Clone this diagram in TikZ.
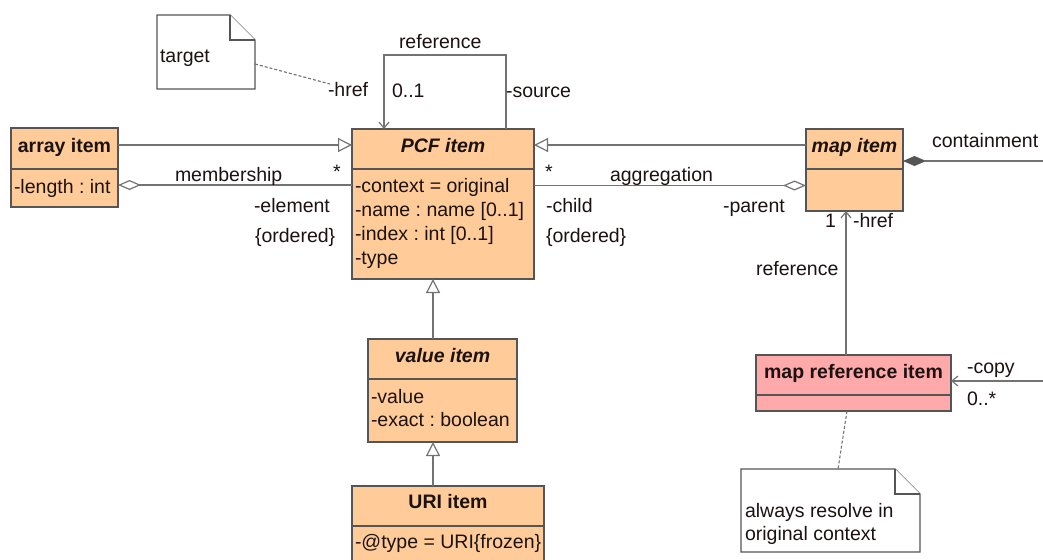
\documentclass[tikz,border=0pt]{standalone}
\usepackage{fontspec}
\setmainfont{Liberation Sans}
\usetikzlibrary{arrows.meta,calc}
\definecolor{peach}{HTML}{FFCC99}
\definecolor{rose}{HTML}{FFAAAA}
\definecolor{edge}{HTML}{555555}
\definecolor{wire}{HTML}{737373}
\definecolor{ink}{HTML}{1C1212}
\frenchspacing

\begin{document}
\begin{tikzpicture}[x=1pt,y=-1pt,
  font=\fontsize{19.5}{24}\selectfont,
  lbl/.style={inner sep=0pt, outer sep=0pt, anchor=base west, text=ink},
  title/.style={inner sep=0pt, outer sep=0pt, anchor=base, text=ink, font=\fontsize{19.5}{24}\selectfont\bfseries},
  part/.style={draw=edge, line width=1.3pt, anchor=north west, inner sep=0pt, outer sep=0pt},
  notebox/.style={inner sep=0pt, outer sep=0pt, anchor=north west},
  notepath/.style={draw=edge, line width=1.2pt, fill=white},
  gen/.style={draw=wire, line width=1.2pt, -{Triangle[length=14pt,width=14pt,fill=white]}},
  aggr/.style={draw=wire, line width=1.2pt, -{Diamond[length=23pt,width=10pt,fill=white]}},
  comp/.style={draw=wire, line width=1.2pt, -{Diamond[length=23pt,width=10pt,color=edge,fill=edge]}},
  nav/.style={draw=wire, line width=1.2pt, -{Straight Barb[length=6pt,width=10pt]}},
  anchorline/.style={draw=wire, line width=1.1pt, dash pattern=on 3pt off 2pt},
]
\clip (0,0) rectangle (1043,559);
\fill[white] (0,0) rectangle (1043,559);

% ---- classes: header and attribute compartments
\node[part, fill=peach, minimum width=107pt, minimum height=41pt] (arrH) at (11,128) {};
\node[part, fill=peach, minimum width=107pt, minimum height=38pt] (arrB) at (arrH.south west) {};

\node[part, fill=peach, minimum width=182pt, minimum height=40pt] (pcfH) at (352,129) {};
\node[part, fill=peach, minimum width=182pt, minimum height=110pt] (pcfB) at (pcfH.south west) {};

\node[part, fill=peach, minimum width=97pt, minimum height=40pt] (mapH) at (806,129) {};
\node[part, fill=peach, minimum width=97pt, minimum height=42pt] (mapB) at (mapH.south west) {};

\node[part, fill=peach, minimum width=149pt, minimum height=40pt] (valH) at (368,339) {};
\node[part, fill=peach, minimum width=149pt, minimum height=63pt] (valB) at (valH.south west) {};

\node[part, fill=peach, minimum width=192pt, minimum height=40pt] (uriH) at (352,486) {};
\node[part, fill=peach, minimum width=192pt, minimum height=42pt] (uriB) at (uriH.south west) {};

\node[part, fill=rose, minimum width=195pt, minimum height=40pt] (mrH) at (756,355) {};
\node[part, fill=rose, minimum width=195pt, minimum height=16pt] (mrB) at (mrH.south west) {};

% ---- class names and attributes
\node[title] (arrT) at (arrH.center |- 0,152) {array item};
\node[lbl] (arrA1) at (14,193) {-length : int};

\node[title, font=\fontsize{19.5}{24}\selectfont\bfseries\itshape] (pcfT) at (pcfH.center |- 0,152) {PCF item};
\node[lbl] (pcfA1) at (355,192) {-context = original};
\node[lbl] (pcfA2) at (355,216) {-name : name [0..1]};
\node[lbl] (pcfA3) at (355,240) {-index : int [0..1]};
\node[lbl] (pcfA4) at (355,264) {-type};

\node[title, font=\fontsize{19.5}{24}\selectfont\bfseries\itshape] (mapT) at (mapH.center |- 0,152) {map item};

\node[title, font=\fontsize{19.5}{24}\selectfont\bfseries\itshape] (valT) at (valH.center |- 0,362) {value item};
\node[lbl] (valA1) at (371,403) {-value};
\node[lbl] (valA2) at (371,426) {-exact : boolean};

\node[title] (uriT) at (uriH.center |- 0,508) {URI item};
\node[lbl] (uriA1) at (355,548) {-@type = URI\{frozen\}};

\node[title] (mrT) at (mrH.center |- 0,378) {map reference item};

% ---- notes with folded corner
\node[notebox, minimum width=98pt, minimum height=74pt] (tgtN) at (157,15) {};
\draw[notepath] (tgtN.north west) -- ($(tgtN.north east)+(-25,0)$) -- ($(tgtN.north east)+(0,25)$)
  -- (tgtN.south east) -- (tgtN.south west) -- cycle;
\draw[notepath] ($(tgtN.north east)+(-25,0)$) -- ($(tgtN.north east)+(-25,25)$) -- ($(tgtN.north east)+(0,25)$);
\node[lbl] (tgtT) at (160,63) {target};

\node[notebox, minimum width=179pt, minimum height=83pt] (ctxN) at (741,469) {};
\draw[notepath] (ctxN.north west) -- ($(ctxN.north east)+(-25,0)$) -- ($(ctxN.north east)+(0,25)$)
  -- (ctxN.south east) -- (ctxN.south west) -- cycle;
\draw[notepath] ($(ctxN.north east)+(-25,0)$) -- ($(ctxN.north east)+(-25,25)$) -- ($(ctxN.north east)+(0,25)$);
\node[lbl] (ctxT1) at (745,517) {always resolve in};
\node[lbl] (ctxT2) at (745,540) {original context};

% ---- generalizations
\coordinate (g1) at ($(arrH.east)+(0,-3.5)$);
\draw[gen] (g1) -- (g1 -| pcfH.west);
\coordinate (g2) at ($(mapH.west)+(0,-4)$);
\draw[gen] (g2) -- (g2 -| pcfH.east);
\coordinate (g3) at ($(valH.north)+(-9.5,0)$);
\draw[gen] (g3) -- (g3 |- pcfB.south);
\coordinate (g4) at ($(uriH.north)+(-15,0)$);
\draw[gen] (g4) -- (g4 |- valB.south);

% ---- aggregations and composition
\coordinate (m1) at ($(arrB.east)+(0,-3)$);
\draw[aggr] (m1 -| pcfB.west) -- (m1);
\coordinate (a1) at ($(mapB.west)+(0,-4.5)$);
\draw[aggr] (a1 -| pcfB.east) -- (a1);
\coordinate (c1) at ($(mapH.east)+(0,12)$);
\coordinate (cEnd) at (1043,161);
\draw[comp] (cEnd) -- (c1);

% ---- directed associations
\coordinate (s1) at ($(pcfH.north)+(63,0)$);
\coordinate (s2) at ($(pcfH.north)+(-59,0)$);
\draw[nav] (s1) -- ++(0,-74) -| (s2);
\coordinate (r1) at ($(mrH.north)+(-7.5,0)$);
\draw[nav] (r1) -- (r1 |- mapB.south);
\coordinate (cp) at ($(mrH.east)+(0,6)$);
\coordinate (cpEnd) at (1043,381);
\draw[nav] (cpEnd) -- (cp);

% ---- note anchors
\coordinate (hrefEnd) at (330,84);
\draw[anchorline] ($(tgtN.east)+(0,12)$) -- (hrefEnd);
\draw[anchorline] ($(mrB.south)+(-6.5,0)$) -- ($(ctxN.north)+(7.5,0)$);

% ---- association labels
\node[lbl] (lHref1) at (328,97) {-href};
\node[lbl] (lRef1) at (399,49) {reference};
\node[lbl] (lOne1) at (392,98) {0..1};
\node[lbl] (lSrc) at (506,98) {-source};
\node[lbl] (lMem) at (175,181) {membership};
\node[lbl] (lStar1) at (333,178) {*};
\node[lbl] (lElem) at (254,212) {-element};
\node[lbl] (lOrd1) at (255,242) {\{ordered\}};
\node[lbl] (lStar2) at (545,178) {*};
\node[lbl] (lAgg) at (610,181) {aggregation};
\node[lbl] (lChild) at (546,212) {-child};
\node[lbl] (lOrd2) at (546,242) {\{ordered\}};
\node[lbl] (lPar) at (723,212) {-parent};
\node[lbl] (lCont) at (932,147) {containment};
\node[lbl] (lOne2) at (825,227) {1};
\node[lbl] (lHref2) at (853,227) {-href};
\node[lbl] (lRef2) at (756,275) {reference};
\node[lbl] (lCopy) at (967,373) {-copy};
\node[lbl] (lMany) at (967,405) {0..*};
\end{tikzpicture}
\end{document}
